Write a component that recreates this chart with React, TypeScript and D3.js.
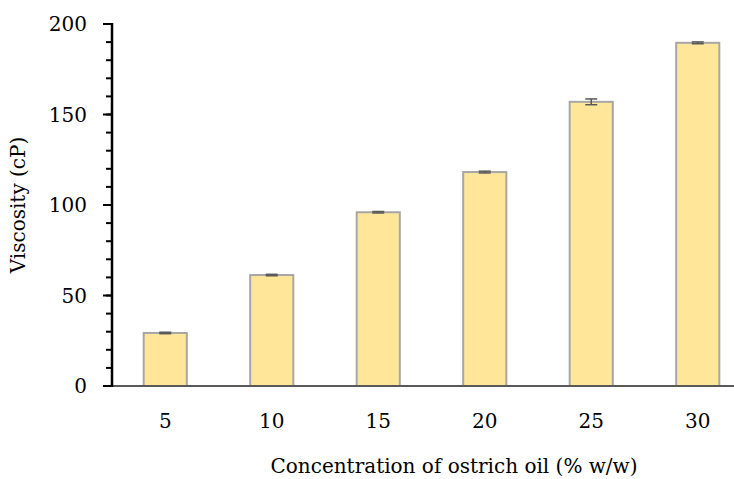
import * as d3 from "d3";

const categories = ["5", "10", "15", "20", "25", "30"];
const viscosity = [29.3, 61.3, 96.0, 118.2, 157.0, 189.6];
const errors = [0.4, 0.4, 0.4, 0.5, 1.6, 0.5];
const yTicks = [0, 50, 100, 150, 200];
const yMinorTicks = d3.range(0, 201, 10);

const width = 734;
const height = 479;
const margin = { top: 24, left: 112, bottom: 93 };
const plotRight = 751;
const font = "'DejaVu Serif', serif";

export default function App() {
    const x = d3.scaleBand<string>()
        .domain(categories)
        .range([margin.left, plotRight])
        .paddingInner(0.595)
        .paddingOuter(0.2975);

    const y = d3.scaleLinear()
        .domain([0, 200])
        .range([height - margin.bottom, margin.top]);

    const base = y(0);

    return (
        <svg width={width} height={height} style={{ display: "block", position: "absolute", left: 0, top: 0 }}>
            <rect width={width} height={height} fill="#fff" />

            {/* bars */}
            {categories.map((c, i) => (
                <rect key={c}
                    x={x(c)!}
                    y={y(viscosity[i])}
                    width={x.bandwidth()}
                    height={base - y(viscosity[i])}
                    fill="#FFE699"
                    stroke="#A6A6A6"
                    strokeWidth={2} />
            ))}

            {/* error bars */}
            {categories.map((c, i) => {
                const cx = x(c)! + x.bandwidth() / 2;
                const hi = y(viscosity[i] + errors[i]);
                const lo = y(viscosity[i] - errors[i]);
                return (
                    <g key={c} stroke="#595959" strokeWidth={1.5}>
                        <line x1={cx} x2={cx} y1={hi} y2={lo} />
                        <line x1={cx - 6} x2={cx + 6} y1={hi} y2={hi} />
                        <line x1={cx - 6} x2={cx + 6} y1={lo} y2={lo} />
                    </g>
                );
            })}

            {/* x axis */}
            <line x1={margin.left} x2={width} y1={base} y2={base} stroke="#595959" strokeWidth={2} />
            {categories.map(c => (
                <text key={c} x={x(c)! + x.bandwidth() / 2} y={428}
                    textAnchor="middle" fontFamily={font} fontSize={20} fill="#000">{c}</text>
            ))}

            {/* y axis */}
            <line x1={margin.left} x2={margin.left} y1={margin.top - 1} y2={base + 1} stroke="#000" strokeWidth={2.5} />
            {yMinorTicks.map(t => (
                <line key={t} x1={margin.left - 6} x2={margin.left} y1={y(t)} y2={y(t)} stroke="#000" strokeWidth={2} />
            ))}
            {yTicks.map(t => (
                <g key={t}>
                    <line x1={margin.left - 9} x2={margin.left} y1={y(t)} y2={y(t)} stroke="#000" strokeWidth={2} />
                    <text x={87} y={y(t) + 7} textAnchor="end" fontFamily={font} fontSize={20} fill="#000">{t}</text>
                </g>
            ))}

            {/* axis titles */}
            <text x={454} y={473} textAnchor="middle" fontFamily={font} fontSize={20} fill="#000">
                Concentration of ostrich oil (% w/w)
            </text>
            <text transform={`translate(25,${(margin.top + base) / 2}) rotate(-90)`} textAnchor="middle"
                fontFamily={font} fontSize={20} fill="#000">
                Viscosity (cP)
            </text>
        </svg>
    );
}
